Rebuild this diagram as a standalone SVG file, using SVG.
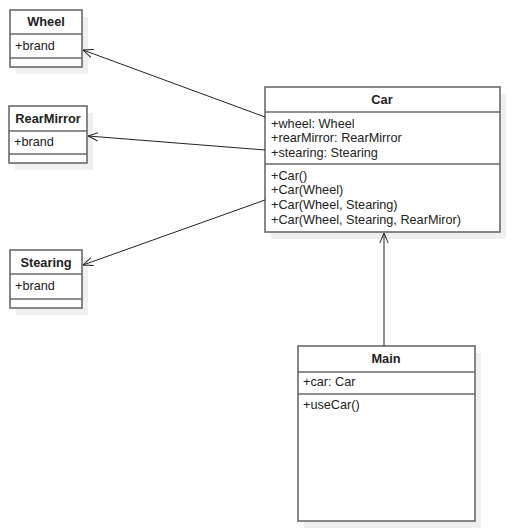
<svg xmlns="http://www.w3.org/2000/svg" width="510" height="531" viewBox="0 0 510 531">
<style>
.shadow{fill:#efefef;stroke:none}
.box{fill:#ffffff;stroke:#6a6a6a;stroke-width:1.6}
.div{stroke:#6a6a6a;stroke-width:1.6}
.title{font-family:"Liberation Sans",Arial,sans-serif;font-size:12.8px;font-weight:bold;fill:#222;text-anchor:middle}
.txt{font-family:"Liberation Sans",Arial,sans-serif;font-size:12.7px;fill:#222}
.conn{stroke:#222;stroke-width:1;fill:none}
</style>
<defs>
<marker id="open" viewBox="0 0 10 10" refX="10" refY="5" markerWidth="10" markerHeight="10" markerUnits="userSpaceOnUse" orient="auto">
<path d="M0,0.8 L10,5 L0,9.2" fill="none" stroke="#222" stroke-width="1"/>
</marker>
</defs>
<rect width="510" height="531" fill="#ffffff"/>
<g id="Wheel">
<rect class="shadow" x="16" y="17" width="72" height="57"/>
<rect class="box" x="10" y="10" width="72" height="57"/>
<line class="div" x1="10" y1="34" x2="82" y2="34"/>
<line class="div" x1="10" y1="58" x2="82" y2="58"/>
<text class="title" x="46" y="26">Wheel</text>
<text class="txt" x="15" y="50">+brand</text>
</g>
<g id="RearMirror">
<rect class="shadow" x="15" y="113" width="78" height="57"/>
<rect class="box" x="9" y="106" width="78" height="57"/>
<line class="div" x1="9" y1="131" x2="87" y2="131"/>
<line class="div" x1="9" y1="154" x2="87" y2="154"/>
<text class="title" x="48" y="123">RearMirror</text>
<text class="txt" x="14" y="146">+brand</text>
</g>
<g id="Stearing">
<rect class="shadow" x="16" y="257" width="72" height="58"/>
<rect class="box" x="10" y="250" width="72" height="58"/>
<line class="div" x1="10" y1="274" x2="82" y2="274"/>
<line class="div" x1="10" y1="299" x2="82" y2="299"/>
<text class="title" x="46" y="267">Stearing</text>
<text class="txt" x="15" y="290">+brand</text>
</g>
<g id="Car">
<rect class="shadow" x="271" y="94" width="235" height="145"/>
<rect class="box" x="265" y="87" width="235" height="145"/>
<line class="div" x1="265" y1="112" x2="500" y2="112"/>
<line class="div" x1="265" y1="164" x2="500" y2="164"/>
<text class="title" x="382" y="104">Car</text>
<text class="txt" x="271" y="128">+wheel: Wheel</text>
<text class="txt" x="271" y="142">+rearMirror: RearMirror</text>
<text class="txt" x="271" y="157">+stearing: Stearing</text>
<text class="txt" x="271" y="180">+Car()</text>
<text class="txt" x="271" y="194">+Car(Wheel)</text>
<text class="txt" x="271" y="209">+Car(Wheel, Stearing)</text>
<text class="txt" x="271" y="224">+Car(Wheel, Stearing, RearMiror)</text>
</g>
<g id="Main">
<rect class="shadow" x="304" y="353" width="177" height="175"/>
<rect class="box" x="298" y="346" width="177" height="175"/>
<line class="div" x1="298" y1="372" x2="475" y2="372"/>
<line class="div" x1="298" y1="394" x2="475" y2="394"/>
<text class="title" x="386" y="363">Main</text>
<text class="txt" x="303" y="386">+car: Car</text>
<text class="txt" x="303" y="409">+useCar()</text>
</g>
<g id="connectors">
<line class="conn" x1="265" y1="117" x2="83" y2="50" marker-end="url(#open)"/>
<line class="conn" x1="265" y1="150" x2="88" y2="136" marker-end="url(#open)"/>
<line class="conn" x1="265" y1="200" x2="83" y2="265" marker-end="url(#open)"/>
<line class="conn" x1="384" y1="346" x2="384" y2="233" marker-end="url(#open)"/>
</g>
</svg>
